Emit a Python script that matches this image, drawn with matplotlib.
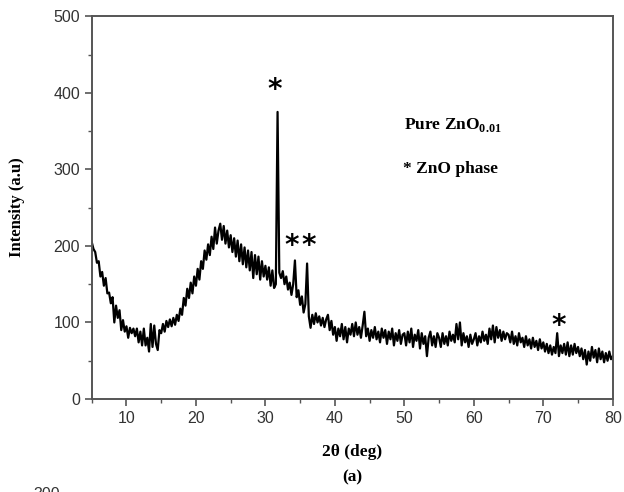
import numpy as np
import matplotlib.pyplot as plt

plt.rcParams['mathtext.fontset'] = 'custom'
plt.rcParams['mathtext.bf'] = 'Liberation Serif:bold'
plt.rcParams['mathtext.rm'] = 'Liberation Serif'

# 2theta from 5 to 80 deg, step 0.25
two_theta = np.arange(5.0, 80.0001, 0.25)

intensity = [
    205, 196, 192, 178, 180, 160, 166, 148, 158, 138, 139, 125, 133, 100, 122, 106, 116, 90, 103, 88,
    95, 80, 93, 86, 92, 82, 92, 74, 88, 70, 92, 70, 80, 62, 98, 68, 96, 72, 64, 90,
    86, 98, 88, 102, 94, 104, 95, 106, 97, 110, 102, 118, 110, 132, 122, 144, 132, 152, 138, 160,
    148, 170, 156, 180, 170, 194, 182, 202, 188, 212, 196, 224, 203, 220, 229, 208, 226, 203, 220, 198,
    214, 192, 210, 186, 207, 180, 202, 176, 198, 172, 194, 168, 192, 158, 188, 163, 186, 156, 180, 160,
    174, 156, 172, 148, 168, 145, 150, 375, 165, 158, 167, 150, 160, 143, 152, 136, 150, 181, 133, 142,
    123, 134, 113, 124, 177, 108, 93, 110, 98, 112, 100, 108, 96, 106, 94, 104, 110, 90, 102, 84,
    94, 76, 92, 82, 98, 78, 94, 74, 92, 84, 98, 82, 100, 84, 94, 80, 96, 114, 82, 92,
    76, 90, 80, 94, 78, 88, 74, 92, 80, 90, 72, 88, 78, 92, 70, 86, 76, 90, 72, 84,
    86, 70, 88, 74, 92, 68, 84, 76, 90, 66, 86, 72, 82, 56, 80, 88, 70, 82, 68, 86,
    80, 68, 86, 72, 82, 70, 88, 76, 84, 74, 98, 78, 100, 70, 86, 74, 82, 68, 84, 72,
    78, 86, 70, 82, 74, 88, 76, 84, 72, 92, 78, 96, 74, 94, 80, 90, 76, 88, 78, 86,
    84, 74, 88, 72, 82, 70, 86, 74, 80, 68, 82, 70, 78, 66, 80, 68, 76, 64, 78, 66,
    74, 62, 72, 60, 70, 58, 68, 60, 86, 56, 70, 60, 72, 58, 74, 56, 70, 58, 72, 60,
    68, 56, 66, 52, 64, 45, 62, 50, 68, 54, 64, 48, 66, 52, 62, 48, 60, 50, 62, 52,
    56,
]

# asterisk markers for ZnO peaks
star_x = [31.4, 33.8, 36.2, 72.2]
star_y = [404, 200, 200, 95]

fig = plt.figure(figsize=(6.24, 4.92), dpi=100)
ax = fig.add_axes([0.147, 0.189, 0.835, 0.778])

ax.plot(two_theta, intensity, color='black', lw=1.6)

for sx, sy in zip(star_x, star_y):
    ax.text(sx, sy, '*', fontsize=20, fontweight='bold', ha='center', va='center',
            family='DejaVu Sans')

serif = 'Liberation Serif'
ax.text(57.0, 358, r'Pure ZnO$_{\mathbf{0.01}}$', fontsize=12.5, fontweight='bold',
        family=serif, ha='center', va='center')
ax.text(56.6, 300, '* ZnO phase', fontsize=12.5, fontweight='bold',
        family=serif, ha='center', va='center')

ax.set_xlim(5, 80)
ax.set_ylim(0, 500)
ax.set_xticks([10, 20, 30, 40, 50, 60, 70, 80])
ax.set_yticks([0, 100, 200, 300, 400, 500])
ax.set_xticks(np.arange(5, 81, 5), minor=True)
ax.set_yticks(np.arange(0, 501, 50), minor=True)

for s in ax.spines.values():
    s.set_color('#555555')
    s.set_linewidth(1.4)
ax.tick_params(which='major', direction='out', length=5, width=1.2, color='#555555',
               labelsize=11.5, labelcolor='#333333')
ax.tick_params(which='minor', direction='out', length=3, width=1.0, color='#555555')
for lab in ax.get_xticklabels() + ax.get_yticklabels():
    lab.set_family('Liberation Sans')

ax.set_ylabel('Intensity (a.u)', fontsize=12, fontweight='bold', family=serif, labelpad=20)
fig.text(0.564, 0.081, '2θ (deg)', fontsize=12.5, fontweight='bold', family=serif,
         ha='center', va='center')
fig.text(0.564, 0.030, '(a)', fontsize=12.5, fontweight='bold', family=serif,
         ha='center', va='center')
fig.text(0.075, -0.006, '300', fontsize=11.5, color='#333333', family='Liberation Sans',
         ha='center', va='center')

fig.savefig('out.png', dpi=100)
